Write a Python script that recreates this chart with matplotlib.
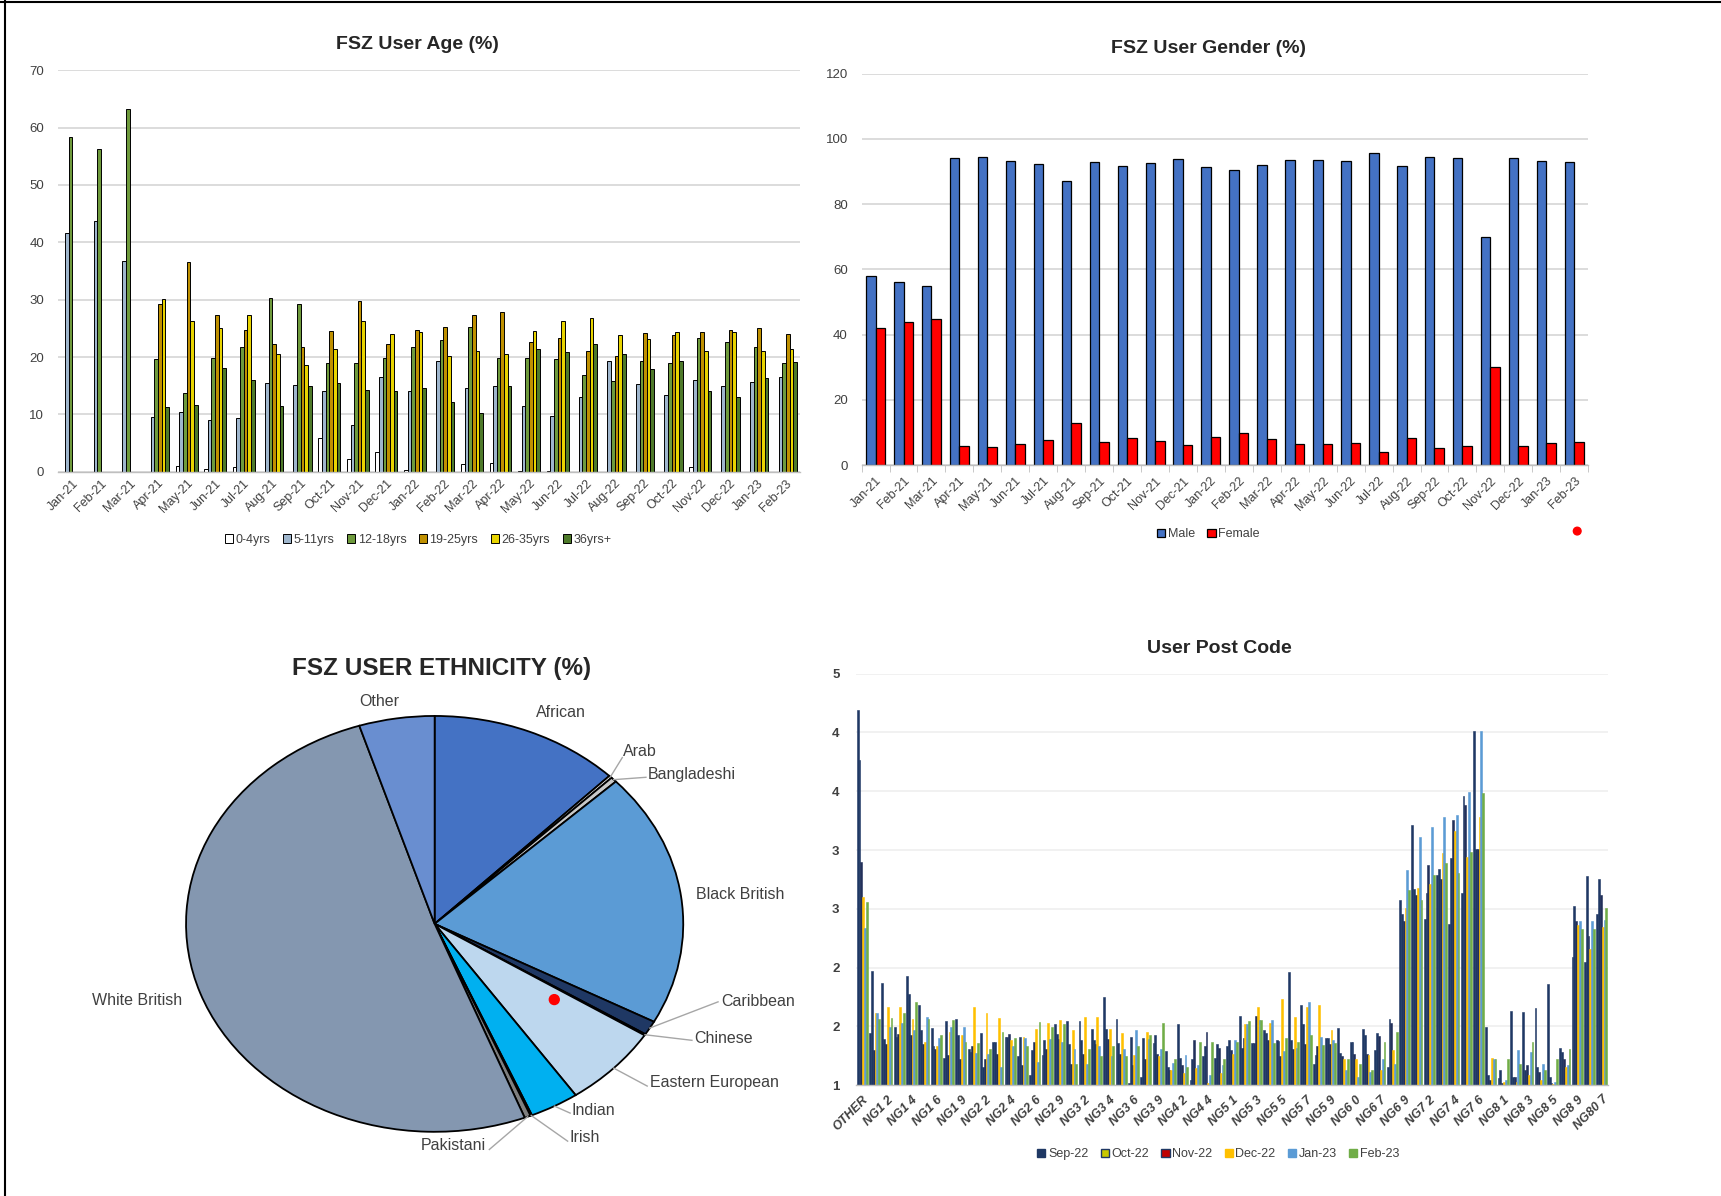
import numpy as np
import matplotlib
matplotlib.use('Agg')
import matplotlib.pyplot as plt
from matplotlib.patches import Ellipse, Patch
from matplotlib.lines import Line2D

plt.rcParams['font.family'] = ['Liberation Sans', 'DejaVu Sans']

# ---------------- data ----------------
months = ['Jan-21', 'Feb-21', 'Mar-21', 'Apr-21', 'May-21', 'Jun-21', 'Jul-21', 'Aug-21',
          'Sep-21', 'Oct-21', 'Nov-21', 'Dec-21', 'Jan-22', 'Feb-22', 'Mar-22', 'Apr-22',
          'May-22', 'Jun-22', 'Jul-22', 'Aug-22', 'Sep-22', 'Oct-22', 'Nov-22', 'Dec-22',
          'Jan-23', 'Feb-23']

age_groups = ['0-4yrs', '5-11yrs', '12-18yrs', '19-25yrs', '26-35yrs', '36yrs+']
age_0_4 = [0, 0, 0, 0, 1.1, 0.5, 0.9, 0, 0, 5.9, 2.2, 3.4, 0.3, 0, 1.3, 1.5, 0.2, 0.2,
           0, 0, 0, 0, 0.9, 0, 0, 0]
age_5_11 = [41.7, 43.8, 36.8, 9.5, 10.5, 9.1, 9.4, 15.4, 15.1, 14.0, 8.2, 16.5, 14.0,
            19.4, 14.6, 15.0, 11.4, 9.7, 13.1, 19.4, 15.3, 13.4, 16.0, 15.0, 15.7, 16.5]
age_12_18 = [58.3, 56.2, 63.2, 19.7, 13.7, 19.9, 21.7, 30.3, 29.3, 18.9, 19.0, 19.8, 21.8,
             22.9, 25.2, 19.9, 19.9, 19.6, 16.8, 15.8, 19.4, 19.0, 23.3, 22.6, 21.7, 19.0]
age_19_25 = [0, 0, 0, 29.3, 36.6, 27.3, 24.8, 22.3, 21.7, 24.5, 29.8, 22.3, 24.8,
             25.3, 27.3, 27.9, 22.6, 23.3, 21.1, 20.2, 24.2, 23.8, 24.3, 24.8, 25.0, 24.0]
age_26_35 = [0, 0, 0, 30.1, 26.3, 25.1, 27.3, 20.5, 18.6, 21.4, 26.3, 24.1, 24.4,
             20.2, 21.1, 20.6, 24.6, 26.3, 26.8, 23.9, 23.2, 24.3, 21.1, 24.3, 21.1, 21.4]
age_36p = [0, 0, 0, 11.3, 11.6, 18.1, 16.0, 11.5, 15.0, 15.4, 14.3, 14.0, 14.6,
           12.1, 10.3, 14.9, 21.4, 20.9, 22.3, 20.6, 18.0, 19.3, 14.1, 13.0, 16.4, 19.1]

gender_male = [58.1, 56.0, 55.0, 94.2, 94.3, 93.2, 92.2, 87.2, 92.9, 91.8, 92.5, 93.8,
               91.4, 90.3, 91.9, 93.5, 93.4, 93.2, 95.8, 91.7, 94.5, 94.0, 69.8, 94.0,
               93.2, 92.8]
gender_female = [41.9, 43.8, 44.9, 5.8, 5.7, 6.6, 7.6, 12.8, 7.1, 8.2, 7.5, 6.2, 8.6,
                 9.8, 8.1, 6.5, 6.6, 6.8, 4.2, 8.3, 5.4, 6.0, 30.1, 6.0, 6.8, 7.1]

eth_names = ['African', 'Arab', 'Bangladeshi', 'Black British', 'Caribbean', 'Chinese',
             'Eastern European', 'Indian', 'Irish', 'Pakistani', 'White British', 'Other']
eth_values = [12.4, 0.2, 0.4, 19.8, 1.1, 0.1, 6.4, 3.2, 0.1, 0.4, 51.0, 4.9]

postcodes = ['OTHER', 'NG1 1', 'NG1 2', 'NG1 3', 'NG1 4', 'NG1 5', 'NG1 6', 'NG1 7',
             'NG1 9', 'NG2 1', 'NG2 2', 'NG2 3', 'NG2 4', 'NG2 5', 'NG2 6', 'NG2 7',
             'NG2 9', 'NG3 1', 'NG3 2', 'NG3 3', 'NG3 4', 'NG3 5', 'NG3 6', 'NG3 7',
             'NG3 9', 'NG4 1', 'NG4 2', 'NG4 3', 'NG4 4', 'NG5 0', 'NG5 1', 'NG5 2',
             'NG5 3', 'NG5 4', 'NG5 5', 'NG5 6', 'NG5 7', 'NG5 8', 'NG5 9', 'NG6',
             'NG6 0', 'NG6 6', 'NG6 7', 'NG6 8', 'NG6 9', 'NG7 1', 'NG7 2', 'NG7 3',
             'NG7 4', 'NG7 5', 'NG7 6', 'NG7 7', 'NG8 1', 'NG8 2', 'NG8 3', 'NG8 4',
             'NG8 5', 'NG8 6', 'NG8 9', 'NG9 1', 'NG80 7']
pc_months = ['Sep-22', 'Oct-22', 'Nov-22', 'Dec-22', 'Jan-23', 'Feb-23']
pc_sep22 = [4.65, 1.51, 1.99, 1.57, 2.06, 1.78, 1.56, 1.26, 1.64, 1.35, 1.51, 1.42, 1.47,
            1.28, 1.10, 1.29, 1.59, 1.62, 1.62, 1.55, 1.86, 1.64, 1.02, 1.08, 1.41, 1.33,
            1.59, 1.05, 1.28, 1.26, 1.38, 1.67, 1.41, 1.54, 1.44, 2.10, 1.78, 1.21, 1.46,
            1.56, 1.42, 1.55, 1.34, 1.18, 2.80, 3.53, 2.62, 3.04, 2.57, 2.87, 4.44, 1.57,
            1.07, 1.72, 1.71, 1.75, 1.98, 1.36, 2.25, 2.20, 2.66]
pc_oct22 = [4.16, 2.11, 1.45, 1.47, 1.89, 1.54, 1.38, 1.62, 1.49, 1.32, 1.18, 1.42, 1.47,
            1.47, 1.34, 1.44, 1.50, 1.40, 1.44, 1.44, 1.55, 1.41, 1.47, 1.46, 1.49, 1.18,
            1.26, 1.25, 1.38, 1.40, 1.44, 1.36, 1.41, 1.51, 1.43, 1.44, 1.59, 1.29, 1.46,
            1.31, 1.42, 1.49, 1.51, 1.64, 2.66, 2.91, 2.87, 3.10, 3.21, 3.81, 3.30, 1.10,
            1.15, 1.08, 1.15, 1.18, 1.08, 1.32, 2.74, 3.03, 3.00]
pc_nov22 = [3.17, 1.34, 1.40, 1.50, 1.49, 1.40, 1.35, 1.29, 1.25, 1.38, 1.25, 1.30, 1.50,
            1.20, 1.42, 1.35, 1.45, 1.21, 1.30, 1.40, 1.45, 1.30, 1.20, 1.25, 1.30, 1.15,
            1.20, 1.44, 1.52, 1.36, 1.34, 1.46, 1.67, 1.44, 1.28, 1.35, 1.40, 1.38, 1.40,
            1.28, 1.30, 1.30, 1.48, 1.60, 2.60, 2.85, 3.14, 3.00, 3.58, 3.72, 3.30, 1.05,
            1.02, 1.08, 1.20, 1.13, 1.02, 1.25, 2.60, 2.45, 2.85]
pc_dec22 = [2.83, 1.70, 1.76, 1.76, 1.64, 1.42, 1.38, 1.52, 1.49, 1.76, 1.70, 1.65, 1.44,
            1.47, 1.55, 1.60, 1.63, 1.54, 1.66, 1.66, 1.55, 1.51, 1.29, 1.52, 1.28, 1.15,
            1.12, 1.17, 1.02, 1.12, 1.30, 1.59, 1.76, 1.60, 1.84, 1.66, 1.76, 1.78, 1.54,
            1.25, 1.25, 1.29, 1.15, 1.34, 2.72, 2.92, 2.96, 3.26, 3.47, 3.22, 3.61, 1.26,
            1.03, 1.03, 1.10, 1.05, 1.01, 1.18, 2.56, 2.32, 2.54]
pc_jan23 = [2.53, 1.70, 1.57, 1.60, 1.54, 1.66, 1.46, 1.57, 1.57, 1.31, 1.30, 1.18, 1.38,
            1.46, 1.23, 1.45, 1.42, 1.35, 1.21, 1.38, 1.28, 1.35, 1.54, 1.45, 1.35, 1.22,
            1.29, 1.20, 1.10, 1.20, 1.44, 1.59, 1.63, 1.63, 1.33, 1.36, 1.81, 1.47, 1.44,
            1.15, 1.08, 1.13, 1.25, 1.21, 3.09, 3.41, 3.51, 3.61, 3.63, 3.85, 4.44, 1.25,
            1.05, 1.34, 1.32, 1.21, 1.03, 1.20, 2.60, 2.60, 2.61]
pc_feb23 = [2.78, 1.64, 1.65, 1.70, 1.81, 1.64, 1.49, 1.63, 1.42, 1.41, 1.35, 1.52, 1.46,
            1.38, 1.61, 1.57, 1.59, 1.21, 1.35, 1.28, 1.38, 1.28, 1.38, 1.49, 1.60, 1.25,
            1.18, 1.42, 1.42, 1.25, 1.42, 1.62, 1.63, 1.41, 1.46, 1.42, 1.49, 1.39, 1.41,
            1.25, 1.21, 1.15, 1.42, 1.52, 2.90, 2.80, 3.04, 3.16, 3.06, 3.27, 3.84, 1.25,
            1.25, 1.21, 1.42, 1.15, 1.25, 1.35, 2.52, 2.52, 2.72]

# ---------------- styling ----------------
age_colors = ['#ffffff', '#9fb6cd', '#6e9a3c', '#bf9000', '#e8d400', '#4e7a2a']
gender_colors = ['#4472c4', '#ff0000']
eth_colors = ['#4472c4', '#f2f2f2', '#c9c9c9', '#5b9bd5', '#1f3864', '#2e75b6',
              '#bdd7ee', '#00b0f0', '#a5a5a5', '#7f7f7f', '#8497b0', '#698ed0']
# bar fills (the thin Oct/Nov bars render as their dark outline) and legend swatches
pc_bar_colors = ['#1f3864', '#1f3864', '#22305a', '#ffc000', '#5b9bd5', '#70ad47']
pc_legend_face = ['#1f3864', '#c8c800', '#c00000', '#ffc000', '#5b9bd5', '#70ad47']
pc_legend_edge = ['#1f3864', '#1f3864', '#1f3864', '#ffc000', '#5b9bd5', '#70ad47']
TXT = '#404040'
GRID = '#d9d9d9'

W, H = 1568.0, 1090.0


def fx(px):
    return px / W


def fy(py):
    return 1 - py / H


fig = plt.figure(figsize=(17.21, 11.96), dpi=100)
fig.patch.set_facecolor('white')


def style_bar_axes(ax, gridcolor=GRID):
    for s in ['top', 'right', 'left']:
        ax.spines[s].set_visible(False)
    ax.spines['bottom'].set_color('#bfbfbf')
    ax.spines['bottom'].set_linewidth(1.0)
    ax.yaxis.grid(True, color=gridcolor, linewidth=1.3)
    ax.set_axisbelow(True)
    ax.tick_params(axis='y', length=0, labelsize=9.5, labelcolor=TXT, pad=10)
    ax.tick_params(axis='x', length=0, labelsize=9, labelcolor=TXT, pad=4)


# ---------------- Age chart ----------------
ax1 = fig.add_axes([fx(53), fy(430), fx(729) - fx(53), fy(64) - fy(430)])
x = np.arange(len(months))
age_series = [age_0_4, age_5_11, age_12_18, age_19_25, age_26_35, age_36p]
bw = 0.128
handles = []
for j, (vals, col, name) in enumerate(zip(age_series, age_colors, age_groups)):
    vals = np.array(vals, dtype=float)
    m = vals > 0
    b = ax1.bar(x[m] + (j - 2.5) * bw, vals[m], width=bw, color=col,
                edgecolor='black', linewidth=0.7, label=name)
    handles.append(b)
ax1.set_xlim(-0.5, len(months) - 0.5)
ax1.set_ylim(0, 70)
ax1.set_yticks(np.arange(0, 71, 10))
ax1.set_xticks(x)
ax1.set_xticklabels(months, rotation=45, ha='right', va='top', rotation_mode='anchor')
style_bar_axes(ax1)
fig.text(fx(380), fy(41), 'FSZ User Age (%)', ha='center', va='center',
         fontsize=14, fontweight='bold', color='#262626')
fig.legend(handles=handles, labels=age_groups, loc='center',
           bbox_to_anchor=(fx(381), fy(492)), ncol=6, frameon=False, fontsize=9,
           handlelength=0.65, handleheight=0.65, handletextpad=0.2, columnspacing=1.0,
           labelcolor=TXT)

# ---------------- Gender chart ----------------
ax2 = fig.add_axes([fx(785), fy(424), fx(1447) - fx(785), fy(67) - fy(424)])
gw = 0.34
b1 = ax2.bar(x - gw / 2, gender_male, width=gw, color=gender_colors[0],
             edgecolor='black', linewidth=0.9, label='Male')
b2 = ax2.bar(x + gw / 2, gender_female, width=gw, color=gender_colors[1],
             edgecolor='black', linewidth=0.9, label='Female')
ax2.set_xlim(-0.5, len(months) - 0.5)
ax2.set_ylim(0, 120)
ax2.set_yticks(np.arange(0, 121, 20))
ax2.set_xticks(x)
ax2.set_xticklabels(months, rotation=45, ha='right', va='top', rotation_mode='anchor')
style_bar_axes(ax2)
ax2.set_xticks(np.arange(-0.5, len(months), 1), minor=True)
ax2.tick_params(axis='x', which='minor', length=5, color='#bfbfbf')
ax2.tick_params(axis='x', which='major', pad=7)
fig.text(fx(1101), fy(44), 'FSZ User Gender (%)', ha='center', va='center',
         fontsize=14, fontweight='bold', color='#262626')
fig.legend(handles=[b1, b2], labels=['Male', 'Female'], loc='center',
           bbox_to_anchor=(fx(1101), fy(487)), ncol=2, frameon=False, fontsize=9,
           handlelength=0.65, handleheight=0.65, handletextpad=0.2, columnspacing=1.0,
           labelcolor=TXT)

# ---------------- Ethnicity pie ----------------
cx, cy, ra, rb = 396.0, 842.0, 226.5, 189.5
xl, xr, yb, yt = -1.74, 1.8, -1.3, 1.25
ax3 = fig.add_axes([fx(cx + xl * ra), fy(cy - yb * rb), (xr - xl) * ra / W, (yt - yb) * rb / H])
wedges, _ = ax3.pie(eth_values, colors=eth_colors, startangle=90, counterclock=False,
                    wedgeprops=dict(edgecolor='black', linewidth=1.3))
ax3.set_aspect('auto')
ax3.set_xlim(xl, xr)
ax3.set_ylim(yb, yt)
ax3.axis('off')

label_layout = {
    'Other': (-0.221, 1.071, 'center', None),
    'African': (0.508, 1.018, 'center', None),
    'Arab': (0.759, 0.828, 'left', (0.755, 0.80)),
    'Bangladeshi': (0.857, 0.718, 'left', (0.85, 0.705)),
    'Black British': (1.051, 0.142, 'left', None),
    'Caribbean': (1.152, -0.375, 'left', (1.14, -0.375)),
    'Chinese': (1.046, -0.549, 'left', (1.035, -0.56)),
    'Eastern European': (0.865, -0.765, 'left', (0.855, -0.78)),
    'Indian': (0.552, -0.897, 'left', (0.545, -0.91)),
    'Irish': (0.543, -1.029, 'left', (0.535, -1.045)),
    'Pakistani': (0.208, -1.066, 'right', (0.22, -1.085)),
    'White British': (-1.196, -0.369, 'center', None),
}
for wdg, name in zip(wedges, eth_names):
    mid = np.deg2rad((wdg.theta1 + wdg.theta2) / 2.0)
    ex, ey = np.cos(mid), np.sin(mid)
    tx, ty, ha, lead = label_layout[name]
    ax3.text(tx, ty, name, ha=ha, va='center', fontsize=11.5, color=TXT)
    if lead is not None:
        ax3.add_line(Line2D([ex, lead[0]], [ey, lead[1]], color='#a6a6a6', lw=1.0))
fig.text(fx(402), fy(609), 'FSZ USER ETHNICITY (%)', ha='center', va='center',
         fontsize=17.5, fontweight='bold', color='#262626')

# ---------------- Post code chart ----------------
ax4 = fig.add_axes([fx(780), fy(989), fx(1465) - fx(780), fy(614) - fy(989)])
xp = np.arange(len(postcodes))
pc_series = [pc_sep22, pc_oct22, pc_nov22, pc_dec22, pc_jan23, pc_feb23]
pw = 0.15
for j, (vals, col, name) in enumerate(zip(pc_series, pc_bar_colors, pc_months)):
    ax4.bar(xp + (j - 2.5) * pw, vals, width=pw, color=col, edgecolor=col,
            linewidth=0.4, label=name)
ax4.set_xlim(-0.5, len(postcodes) - 0.5)
ax4.set_ylim(1, 5)
yt4 = np.linspace(1, 5, 8)
ax4.set_yticks(yt4)
ax4.set_yticklabels(['%.0f' % t for t in yt4])
ax4.set_xticks(xp[::2])
ax4.set_xticklabels(postcodes[::2], rotation=45, ha='right', va='top',
                    rotation_mode='anchor', fontweight='bold', fontstyle='italic')
style_bar_axes(ax4, gridcolor='#f0f0f0')
ax4.tick_params(axis='y', labelsize=9.5, pad=12)
ax4.tick_params(axis='x', pad=6)
for lab in ax4.get_yticklabels():
    lab.set_fontweight('bold')
fig.text(fx(1111), fy(591), 'User Post Code', ha='center', va='center',
         fontsize=14, fontweight='bold', color='#262626')
pc_handles = [Patch(facecolor=f, edgecolor=e, linewidth=1.0)
              for f, e in zip(pc_legend_face, pc_legend_edge)]
fig.legend(handles=pc_handles, labels=pc_months, loc='center',
           bbox_to_anchor=(fx(1110), fy(1052)), ncol=6, frameon=False, fontsize=9,
           handlelength=0.65, handleheight=0.65, handletextpad=0.2, columnspacing=1.0,
           labelcolor=TXT)

# stray red dots present in the reference
fig.add_artist(Ellipse((fx(1437), fy(484)), fx(7), 7 / H, transform=fig.transFigure,
                       color='#ff0000'))
fig.add_artist(Ellipse((fx(505), fy(911)), fx(9), 9 / H, transform=fig.transFigure,
                       color='#ff0000'))

# page frame
fig.add_artist(Line2D([0.003, 0.003], [0, 1], transform=fig.transFigure, color='black', lw=1.5))
fig.add_artist(Line2D([0, 1], [0.998, 0.998], transform=fig.transFigure, color='black', lw=1.5))

fig.savefig('out.png', dpi=100, facecolor='white')
